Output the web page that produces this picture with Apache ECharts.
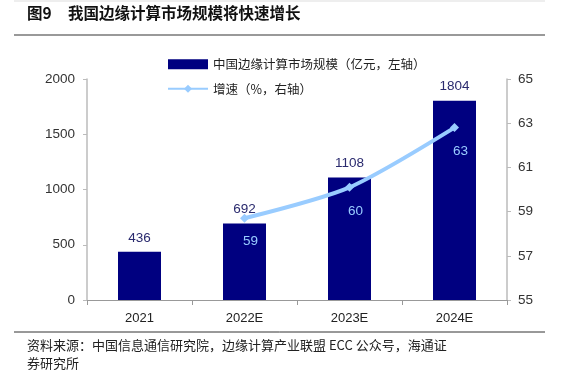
<!DOCTYPE html>
<html><head><meta charset="utf-8">
<script src="https://cdn.jsdelivr.net/npm/echarts@6/dist/echarts.min.js"></script>
<style>html,body{margin:0;padding:0;background:#fff}#c{width:568px;height:380px}</style>
</head><body><div id="c"></div>
<script>
const categories = ['2021', '2022E', '2023E', '2024E'];
const marketSize = [436, 692, 1108, 1804];
const growthRate = [null, 58.7, 60.1, 62.8];
const leftTicks = {min: 0, max: 2000, interval: 500};
const rightTicks = {min: 55, max: 65, interval: 2};
const barName = '中国边缘计算市场规模（亿元，左轴）';
const lineName = '增速（%，右轴）';

const chart = echarts.init(document.getElementById('c'));
const cjk = '"Noto Sans CJK SC", sans-serif';
chart.setOption({
  animation: false,
  textStyle: {fontFamily: 'Arial, "Liberation Sans", sans-serif'},
  grid: {left: 87, right: 61, top: 79, bottom: 80},
  legend: {
    orient: 'vertical', left: 162, top: 53, itemGap: 12,
    itemWidth: 40, itemHeight: 10,
    textStyle: {fontFamily: cjk, fontSize: 12.5, color: '#222'},
    data: [
      {name: barName, icon: 'rect'},
      {name: lineName}
    ]
  },
  xAxis: {
    type: 'category', data: categories,
    axisLine: {lineStyle: {color: '#999'}},
    axisTick: {show: true, length: 5, lineStyle: {color: '#999'}},
    axisLabel: {color: '#222', fontSize: 13, margin: 12}
  },
  yAxis: [
    {type: 'value', min: leftTicks.min, max: leftTicks.max, interval: leftTicks.interval,
     splitLine: {show: false},
     axisLine: {show: true, lineStyle: {color: '#bbb', width: 1.5}},
     axisTick: {show: true, length: 4, lineStyle: {color: '#bbb'}},
     axisLabel: {color: '#333', fontSize: 13.5, margin: 12, formatter: v => String(v)}},
    {type: 'value', min: rightTicks.min, max: rightTicks.max, interval: rightTicks.interval,
     splitLine: {show: false},
     axisLine: {show: true, lineStyle: {color: '#bbb', width: 1.5}},
     axisTick: {show: true, length: 4, lineStyle: {color: '#bbb'}},
     axisLabel: {color: '#333', fontSize: 13.5, margin: 11}}
  ],
  series: [
    {name: barName, type: 'bar', data: marketSize, barWidth: 43,
     itemStyle: {color: '#000080'},
     label: {show: true, position: 'top', distance: 7, color: '#2a2a6e', fontSize: 13.5}},
    {name: lineName, type: 'line', yAxisIndex: 1, data: growthRate,
     smooth: 0.25, connectNulls: false,
     lineStyle: {color: '#99ccff', width: 4},
     itemStyle: {color: '#99ccff'},
     symbol: 'diamond', symbolSize: 9,
     label: {show: true, position: 'bottom', distance: 12, offset: [6, 0], color: '#99ccff', fontSize: 13.5,
       formatter: p => Math.round(p.value)}}
  ],
  graphic: [
    {type: 'line', shape: {x1: 14, y1: 1, x2: 545, y2: 1}, style: {stroke: '#ddd', lineWidth: 1}},
    {type: 'text', left: 27, top: 5, style: {text: '图9', font: 'bold 15.5px "Noto Sans CJK SC", sans-serif', fill: '#111'}},
    {type: 'text', left: 68, top: 5, style: {text: '我国边缘计算市场规模将快速增长', font: 'bold 15.5px "Noto Sans CJK SC", sans-serif', fill: '#111'}},
    {type: 'line', shape: {x1: 14, y1: 35, x2: 545, y2: 35}, style: {stroke: '#999', lineWidth: 2}},
    {type: 'line', shape: {x1: 14, y1: 332, x2: 545, y2: 332}, style: {stroke: '#333', lineWidth: 1}},
    {type: 'text', left: 27, top: 336, style: {text: '资料来源：中国信息通信研究院，边缘计算产业联盟 ECC 公众号，海通证\n券研究所', font: '13px "Noto Sans CJK SC", sans-serif', fill: '#222', lineHeight: 18}}
  ]
});
</script></body></html>
